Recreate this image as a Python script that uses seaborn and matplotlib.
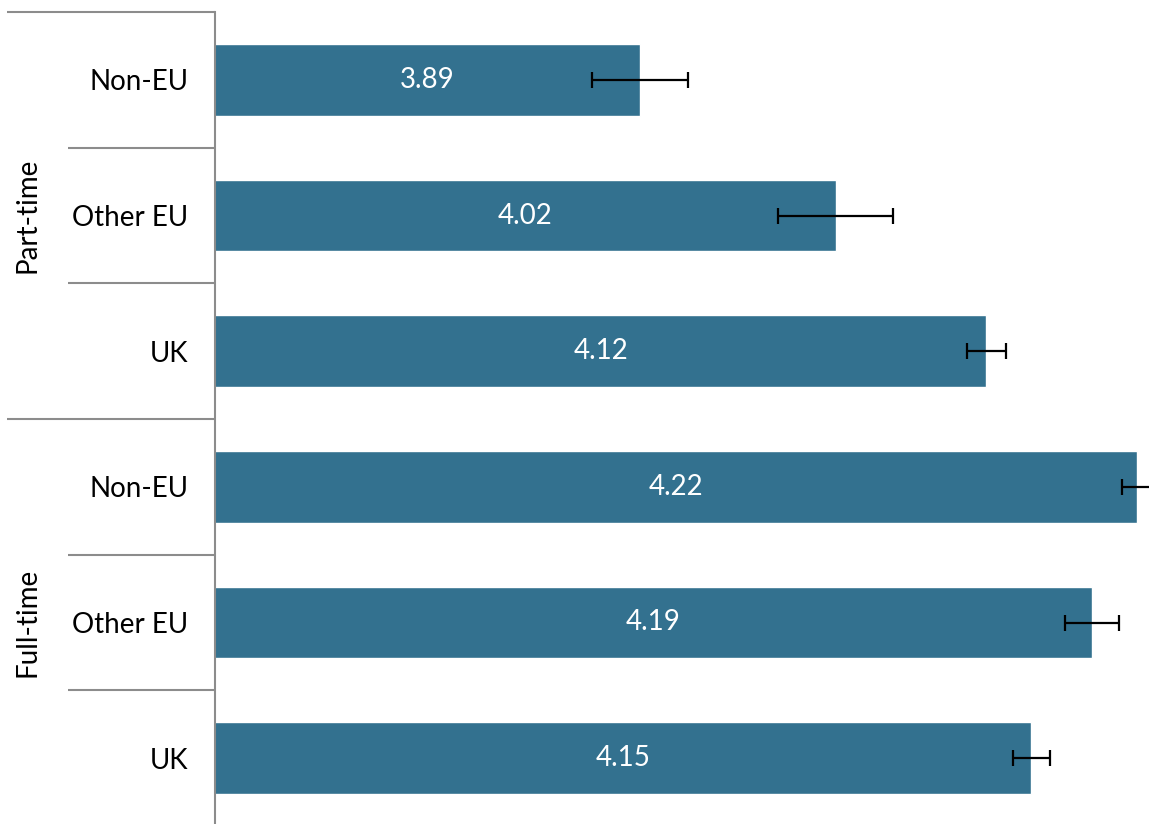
import numpy as np
import pandas as pd
import seaborn as sns
import matplotlib
matplotlib.use("Agg")
import matplotlib.pyplot as plt

# Mean scores by study mode and domicile, with error margins
groups = ["Part-time", "Part-time", "Part-time", "Full-time", "Full-time", "Full-time"]
regions = ["Non-EU", "Other EU", "UK", "Non-EU", "Other EU", "UK"]
means = [3.89, 4.02, 4.12, 4.22, 4.19, 4.15]
errors = [0.032, 0.038, 0.013, 0.010, 0.018, 0.012]

bar_color = "#33718F"
line_gray = "#8c8c8c"

sns.set_theme(style="white")
plt.rcParams["font.family"] = ["Lato", "DejaVu Sans"]

df = pd.DataFrame({
    "row": [f"{g} {r}" for g, r in zip(groups, regions)],
    "region": regions,
    "group": groups,
    "mean": means,
})

fig = plt.figure(figsize=(11.49, 8.24), dpi=100)
ax = fig.add_axes([215 / 1149, -2 / 824, 934 / 1149, 814 / 824])

sns.barplot(data=df, x="mean", y="row", orient="h", color=bar_color,
            saturation=1, width=0.53, errorbar=None, ax=ax)

ypos = np.arange(len(means))
ax.errorbar(means, ypos, xerr=errors, fmt="none", ecolor="black",
            elinewidth=1.6, capsize=5.5, capthick=1.6, zorder=5)

ax.bar_label(ax.containers[0], labels=[f"{m:.2f}" for m in means],
             label_type="center", color="white", fontsize=20)

ax.set_xlim(3.608, 4.228)
ax.set_ylim(len(means) - 0.5, -0.5)
ax.set_xlabel("")
ax.set_ylabel("")
ax.set_xticks([])
ax.set_yticks(ypos)
ax.set_yticklabels(regions, fontsize=20, color="black")
ax.tick_params(axis="y", length=0, pad=19)

for side in ["top", "right", "bottom"]:
    ax.spines[side].set_visible(False)
ax.spines["left"].set_color(line_gray)
ax.spines["left"].set_linewidth(1.5)

# Row and group separators in the label area
trans = ax.get_yaxis_transform()
x_group = (7 - 215) / 934
x_row = (68 - 215) / 934
for b in np.arange(-0.5, len(means) + 0.5, 1.0):
    start = x_group if (b + 0.5) % 3 == 0 else x_row
    ax.plot([start, 0], [b, b], transform=trans, color=line_gray,
            lw=1.5, clip_on=False, solid_capstyle="butt")

# Group labels, rotated along the left edge
for name, center in [("Part-time", 1.0), ("Full-time", 4.0)]:
    ax.text((28 - 215) / 934, center, name, transform=trans, rotation=90,
            ha="center", va="center", fontsize=20, color="black")

fig.savefig("out.png", dpi=100)
